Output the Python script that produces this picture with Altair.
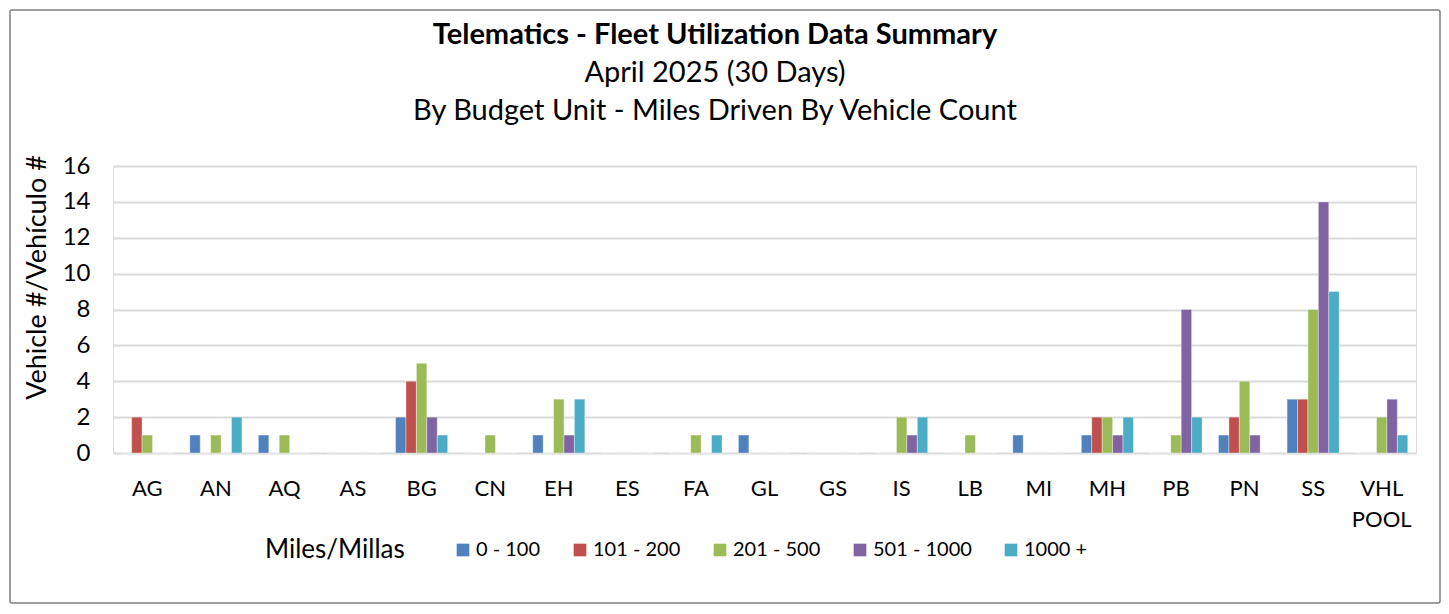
import altair as alt
import pandas as pd

units = ["AG", "AN", "AQ", "AS", "BG", "CN", "EH", "ES", "FA", "GL", "GS",
         "IS", "LB", "MI", "MH", "PB", "PN", "SS", "VHL POOL"]
series = ["0 - 100", "101 - 200", "201 - 500", "501 - 1000", "1000 +"]
colors = ["#4F81BD", "#C0504D", "#9BBB59", "#8064A2", "#4BACC6"]

v_0_100 =     [0, 1, 1, 0, 2, 0, 1, 0, 0, 1, 0, 0, 0, 1, 1, 0, 1, 3, 0]
v_101_200 =   [2, 0, 0, 0, 4, 0, 0, 0, 0, 0, 0, 0, 0, 0, 2, 0, 2, 3, 0]
v_201_500 =   [1, 1, 1, 0, 5, 1, 3, 0, 1, 0, 0, 2, 1, 0, 2, 1, 4, 8, 2]
v_501_1000 =  [0, 0, 0, 0, 2, 0, 1, 0, 0, 0, 0, 1, 0, 0, 1, 8, 1, 14, 3]
v_1000_plus = [0, 2, 0, 0, 1, 0, 3, 0, 1, 0, 0, 2, 0, 0, 2, 2, 0, 9, 1]

title_lines = ["Telematics - Fleet Utilization Data Summary",
               "April 2025 (30 Days)",
               "By Budget Unit - Miles Driven By Vehicle Count"]

values = [v_0_100, v_101_200, v_201_500, v_501_1000, v_1000_plus]
rows = []
for s, vals in zip(series, values):
    for u, v in zip(units, vals):
        rows.append({"unit": u, "range": s, "count": v})
df = pd.DataFrame(rows)

FONT = "Lato"

bars = alt.Chart(df).mark_bar(stroke="white", strokeWidth=0.6, strokeOpacity=0.6).encode(
    x=alt.X("unit:N", sort=units,
            scale=alt.Scale(paddingInner=0.24, paddingOuter=0.12),
            axis=alt.Axis(title=None, labelFontSize=22, labelColor="black",
                          labelFont=FONT, labelAngle=0, labelPadding=35,
                          ticks=False, domain=False, labelLineHeight=31,
                          labelBaseline="middle",
                          labelExpr="split(datum.label, ' ')")),
    xOffset=alt.XOffset("range:N", sort=series),
    y=alt.Y("count:Q",
            scale=alt.Scale(domain=[0, 16], nice=False),
            axis=alt.Axis(values=[0, 2, 4, 6, 8, 10, 12, 14, 16],
                          title="Vehicle #/Vehículo #", titleFontSize=27,
                          titleFont=FONT, titleFontWeight="normal",
                          titleColor="black", titleAngle=-90,
                          titleX=-76, titleY=111, titleAlign="center",
                          titleBaseline="middle",
                          labelFontSize=24, labelFont=FONT, labelColor="black",
                          labelPadding=23, ticks=False, domain=False,
                          grid=True, gridColor="#d9d9d9", gridWidth=2)),
    color=alt.Color("range:N", sort=series,
                    scale=alt.Scale(domain=series, range=colors),
                    legend=alt.Legend(title="Miles/Millas", orient="none",
                                      direction="horizontal",
                                      legendX=152, legendY=374,
                                      titleOrient="left", titleFontSize=26,
                                      titleFont=FONT, titleFontWeight="normal",
                                      titleColor="black", titlePadding=48,
                                      labelFontSize=20, labelFont=FONT,
                                      labelColor="black",
                                      symbolType="square",
                                      symbolSize=160, symbolStrokeWidth=0,
                                      labelOffset=3, columnPadding=29,
                                      titleBaseline="middle")),
)

frame_df = pd.DataFrame({"a": [0]})
border = alt.Chart(frame_df).mark_rect(
    fill="transparent", stroke="#7f7f7f", strokeWidth=1.5, cornerRadius=2
).encode(
    x=alt.value(-103), x2=alt.value(1327),
    y=alt.value(-156), y2=alt.value(437),
)

def title_line(text, y, weight):
    return alt.Chart(frame_df).mark_text(
        text=text, font=FONT, fontSize=29, fontWeight=weight,
        color="black", align="center", baseline="middle"
    ).encode(x=alt.value(602), y=alt.value(y))

t1 = title_line(title_lines[0], -131, "bold")
t2 = title_line(title_lines[1], -93, "normal")
t3 = title_line(title_lines[2], -55, "normal")

chart = alt.layer(border, bars, t1, t2, t3).properties(
    width=1303, height=287,
    autosize=alt.AutoSizeParams(type="none"),
    padding={"left": 105, "top": 158, "right": 25, "bottom": 153},
).configure_view(stroke=None).configure(background="white")

chart.save("out.html", embed_options={"renderer": "svg", "actions": False})
